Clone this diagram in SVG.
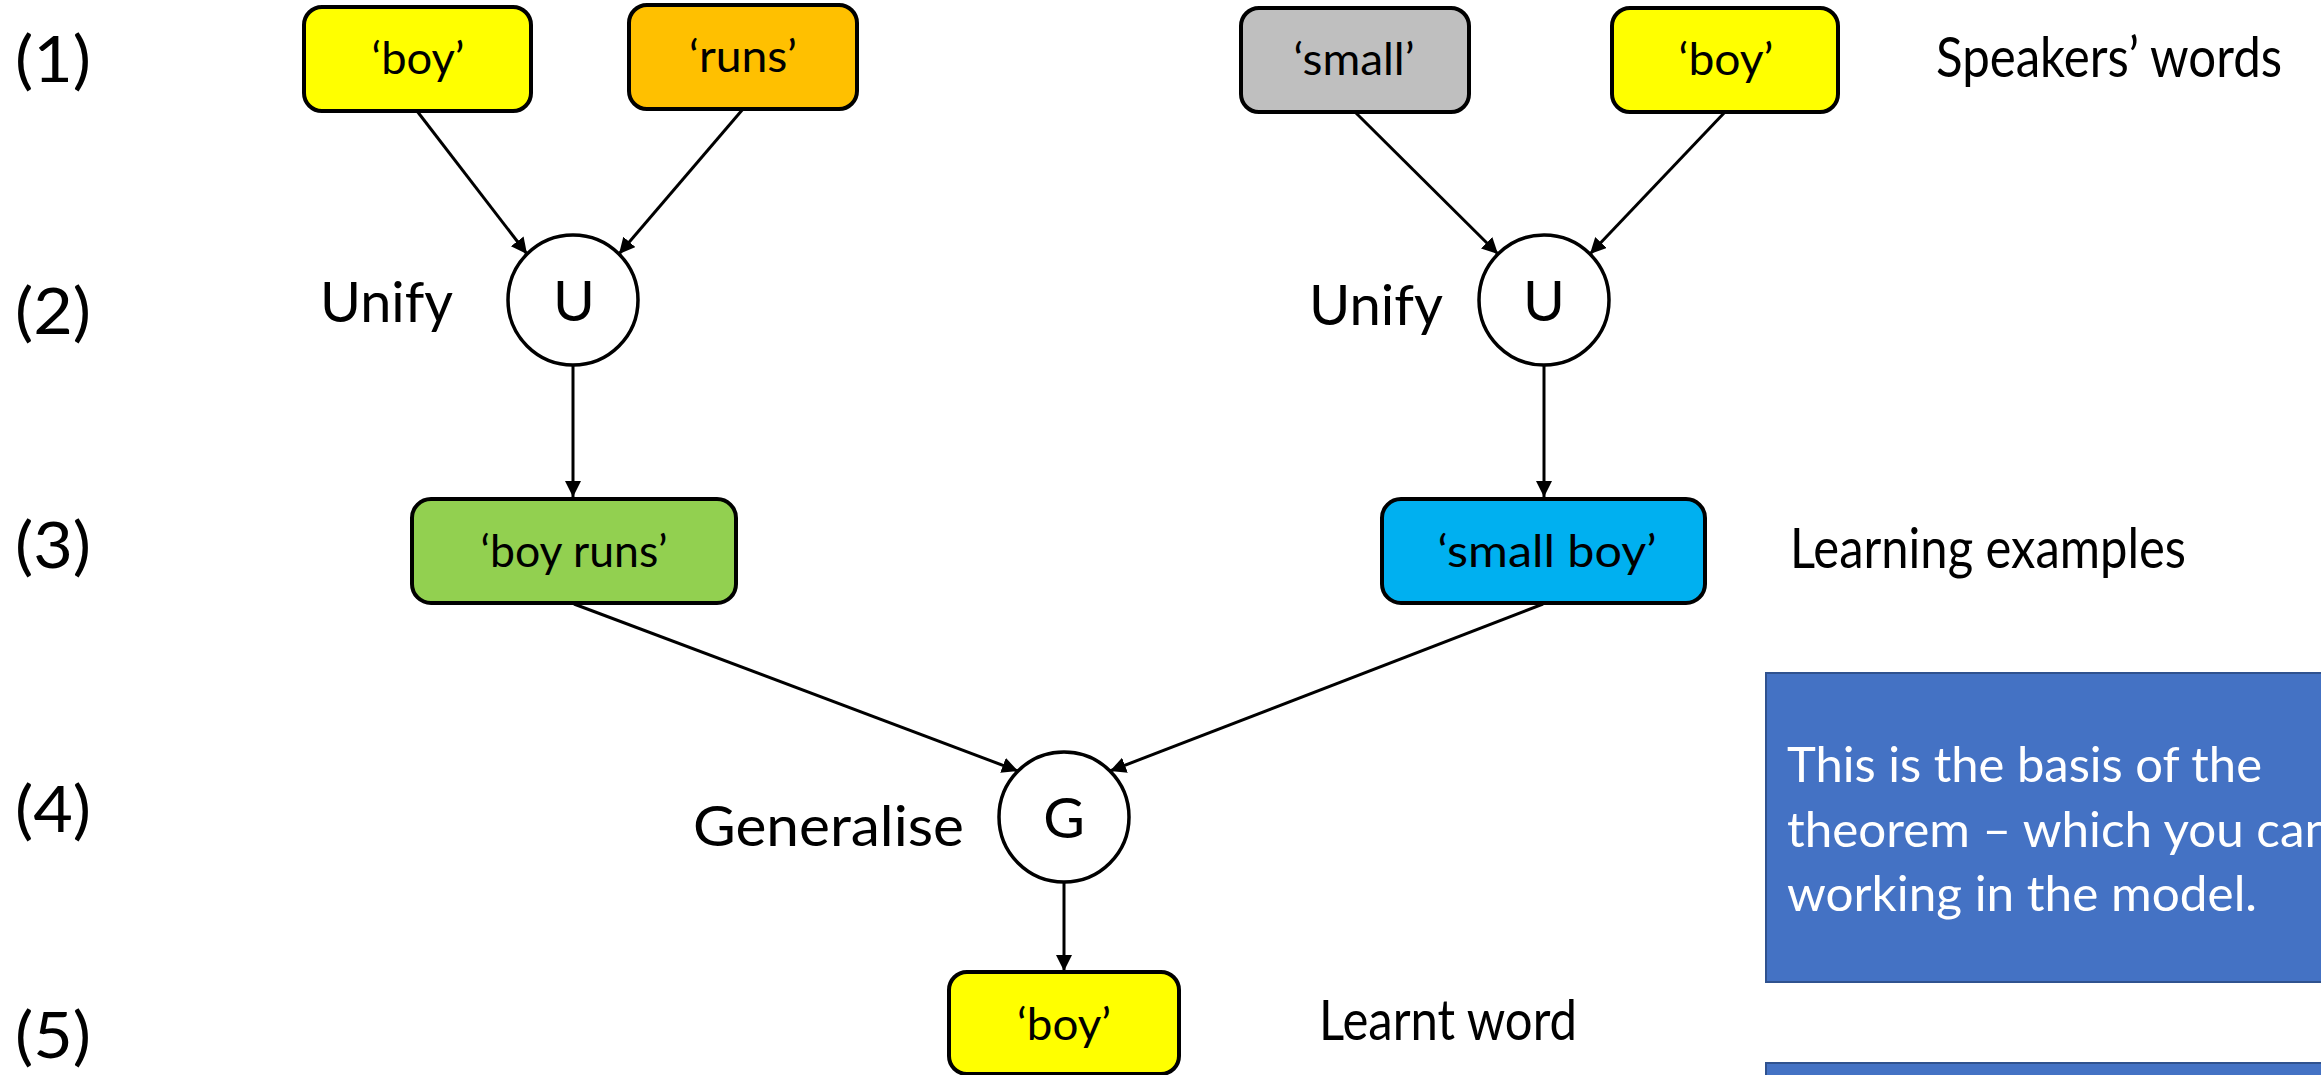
<svg xmlns="http://www.w3.org/2000/svg" width="2321" height="1075" viewBox="0 0 2321 1075">
  <defs>
    <marker id="arrow" markerUnits="userSpaceOnUse" markerWidth="18" markerHeight="18" refX="16" refY="8" orient="auto">
      <path d="M0,0 L16,8 L0,16 z" fill="#000"/>
    </marker>
    <style>
      text { font-family: Lato, "Open Sans", "Liberation Sans", sans-serif; fill: #000; }
      .row { font-size: 64px; }
      .lbl { font-size: 57px; }
      .box { stroke: #000; stroke-width: 4; }
      .bt { font-size: 44px; text-anchor: middle; }
      .circ { fill: #fff; stroke: #000; stroke-width: 3.5; }
      .ct { font-size: 57px; text-anchor: middle; }
      .conn line { stroke: #000; stroke-width: 3; marker-end: url(#arrow); }
      .note { fill: #4472C4; stroke: #2F528F; stroke-width: 2; }
      .nt { font-size: 49px; fill: #fff; }
    </style>
  </defs>
  <rect width="2321" height="1075" fill="#fff"/>

  <g id="row-labels">
    <text class="row" x="15" y="82" textLength="76" lengthAdjust="spacingAndGlyphs">(1)</text>
    <text class="row" x="15" y="334" textLength="76" lengthAdjust="spacingAndGlyphs">(2)</text>
    <text class="row" x="15" y="568" textLength="76" lengthAdjust="spacingAndGlyphs">(3)</text>
    <text class="row" x="15" y="832" textLength="76" lengthAdjust="spacingAndGlyphs">(4)</text>
    <text class="row" x="15" y="1058" textLength="76" lengthAdjust="spacingAndGlyphs">(5)</text>
  </g>

  <g id="connectors" class="conn">
    <line x1="417" y1="111" x2="527" y2="254"/>
    <line x1="743" y1="109" x2="619" y2="254"/>
    <line x1="1355" y1="112" x2="1498" y2="254"/>
    <line x1="1725" y1="112" x2="1590" y2="254"/>
    <line x1="573" y1="365" x2="573" y2="497"/>
    <line x1="1544" y1="365" x2="1544" y2="497"/>
    <line x1="574" y1="604" x2="1018" y2="771"/>
    <line x1="1543" y1="604" x2="1110" y2="771"/>
    <line x1="1064" y1="882" x2="1064" y2="971"/>
  </g>

  <g id="word-boy-1">
    <rect class="box" x="304" y="7" width="227" height="104" rx="18" fill="#FFFF00"/>
    <text class="bt" x="418" y="74" textLength="93" lengthAdjust="spacingAndGlyphs">‘boy’</text>
  </g>
  <g id="word-runs">
    <rect class="box" x="629" y="5" width="228" height="104" rx="18" fill="#FFC000"/>
    <text class="bt" x="743" y="72" textLength="108" lengthAdjust="spacingAndGlyphs">‘runs’</text>
  </g>
  <g id="word-small">
    <rect class="box" x="1241" y="8" width="228" height="104" rx="18" fill="#BFBFBF"/>
    <text class="bt" x="1354" y="75" textLength="121" lengthAdjust="spacingAndGlyphs">‘small’</text>
  </g>
  <g id="word-boy-2">
    <rect class="box" x="1612" y="8" width="226" height="104" rx="18" fill="#FFFF00"/>
    <text class="bt" x="1726" y="75" textLength="95" lengthAdjust="spacingAndGlyphs">‘boy’</text>
  </g>

  <g id="unify-1">
    <text class="lbl" x="320" y="322" textLength="133" lengthAdjust="spacingAndGlyphs">Unify</text>
    <circle class="circ" cx="573" cy="300" r="65"/>
    <text class="ct" x="574" y="321">U</text>
  </g>
  <g id="unify-2">
    <text class="lbl" x="1309" y="325" textLength="134" lengthAdjust="spacingAndGlyphs">Unify</text>
    <circle class="circ" cx="1544" cy="300" r="65"/>
    <text class="ct" x="1544" y="321">U</text>
  </g>

  <g id="example-boy-runs">
    <rect class="box" x="412" y="499" width="324" height="104" rx="19" fill="#92D050"/>
    <text class="bt" x="574" y="567" textLength="187" lengthAdjust="spacingAndGlyphs">‘boy runs’</text>
  </g>
  <g id="example-small-boy">
    <rect class="box" x="1382" y="499" width="323" height="104" rx="19" fill="#00B0F0"/>
    <text class="bt" x="1547" y="567" textLength="219" lengthAdjust="spacingAndGlyphs">‘small boy’</text>
  </g>

  <g id="generalise">
    <text class="lbl" x="693" y="846" textLength="271" lengthAdjust="spacingAndGlyphs">Generalise</text>
    <circle class="circ" cx="1064" cy="817" r="65"/>
    <text class="ct" x="1064" y="838">G</text>
  </g>

  <g id="learnt-boy">
    <rect class="box" x="949" y="972" width="230" height="102" rx="18" fill="#FFFF00"/>
    <text class="bt" x="1064" y="1040" textLength="94" lengthAdjust="spacingAndGlyphs">‘boy’</text>
  </g>

  <g id="side-labels">
    <text class="lbl" x="1936" y="77" textLength="346" lengthAdjust="spacingAndGlyphs">Speakers’ words</text>
    <text class="lbl" x="1790" y="568" textLength="396" lengthAdjust="spacingAndGlyphs">Learning examples</text>
    <text class="lbl" x="1319" y="1040" textLength="258" lengthAdjust="spacingAndGlyphs">Learnt word</text>
  </g>

  <g id="note-1">
    <rect class="note" x="1766" y="673" width="600" height="309"/>
    <text class="nt" x="1787" y="782" textLength="475" lengthAdjust="spacingAndGlyphs">This is the basis of the</text>
    <text class="nt" x="1787" y="847" textLength="545" lengthAdjust="spacingAndGlyphs">theorem – which you can</text>
    <text class="nt" x="1787" y="911" textLength="470" lengthAdjust="spacingAndGlyphs">working in the model.</text>
  </g>
  <g id="note-2">
    <rect class="note" x="1766" y="1063" width="600" height="60"/>
  </g>
</svg>
